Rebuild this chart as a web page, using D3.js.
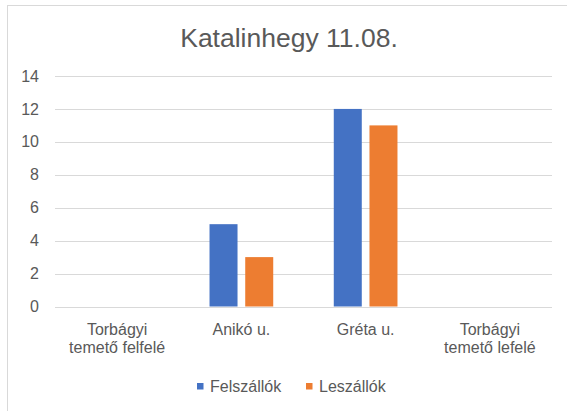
<!DOCTYPE html>
<html><head><meta charset="utf-8">
<script src="https://cdn.jsdelivr.net/npm/d3@7"></script>
<style>
html,body{margin:0;padding:0;background:#fff;}
text{font-family:"Liberation Sans",Arial,sans-serif;fill:#595959;}
</style></head>
<body>
<svg id="chart" width="567" height="411"></svg>
<script>
const title = "Katalinhegy 11.08.";
const categories = [["Torbágyi","temető felfelé"],["Anikó u."],["Gréta u."],["Torbágyi","temető lefelé"]];
const seriesNames = ["Felszállók","Leszállók"];
const felszallok = [0,5,12,0];
const leszallok = [0,3,11,0];
const yTicks = [0,2,4,6,8,10,12,14];
const colors = ["#4472C4","#ED7D31"];

const svg = d3.select("#chart");
svg.append("rect").attr("x",7.5).attr("y",5.5).attr("width",700).attr("height",600)
  .attr("fill","#fff").attr("stroke","#d9d9d9").attr("stroke-width",1);

const catKeys = categories.map(c=>c.join(" "));
const x0 = d3.scaleBand().domain(catKeys).range([55,552]).padding(0);
const x1 = d3.scaleBand().domain(seriesNames).range([-31.85,31.85]).paddingInner(0.2157).paddingOuter(0);
const y = d3.scaleLinear().domain([0,14]).range([306.5,76]);

svg.append("text").attr("x",289).attr("y",47).attr("text-anchor","middle")
  .style("font-size","26.5px").text(title);

// gridlines
svg.append("g").selectAll("line").data(yTicks).join("line")
  .attr("x1",55).attr("x2",552).attr("y1",d=>Math.round(y(d))+0.5).attr("y2",d=>Math.round(y(d))+0.5)
  .attr("stroke","#d9d9d9").attr("stroke-width",1);

// y axis labels
const yAxis = d3.axisLeft(y).tickValues(yTicks).tickSize(0).tickPadding(0);
const gy = svg.append("g").attr("transform","translate(39,0)").call(yAxis);
gy.select(".domain").remove();
gy.selectAll("text").style("font-size","16px").style("fill","#595959").style("font-family","Liberation Sans, Arial, sans-serif");

// bars
const data = [felszallok, leszallok];
seriesNames.forEach((s,si)=>{
  svg.append("g").selectAll("rect").data(catKeys).join("rect")
    .attr("x",(c)=>x0(c)+x0.bandwidth()/2 + x1(s))
    .attr("width",x1.bandwidth())
    .attr("y",(c,i)=>y(data[si][i]))
    .attr("height",(c,i)=>y(0)-y(data[si][i]))
    .attr("fill",colors[si]);
});

// x axis labels
const gx = svg.append("g");
categories.forEach((c,i)=>{
  const t = gx.append("text").attr("x",x0(catKeys[i])+x0.bandwidth()/2).attr("y",335)
    .attr("text-anchor","middle").style("font-size","16px");
  c.forEach((line,j)=>{
    t.append("tspan").attr("x",x0(catKeys[i])+x0.bandwidth()/2).attr("dy",j===0?0:17.7).text(line);
  });
});

// legend
const legX = [197,306];
seriesNames.forEach((s,i)=>{
  svg.append("rect").attr("x",legX[i]).attr("y",383).attr("width",6.5).attr("height",6.5).attr("fill",colors[i]);
  svg.append("text").attr("x",legX[i]+13).attr("y",391.5).style("font-size","16px").text(s);
});
</script>
</body></html>
